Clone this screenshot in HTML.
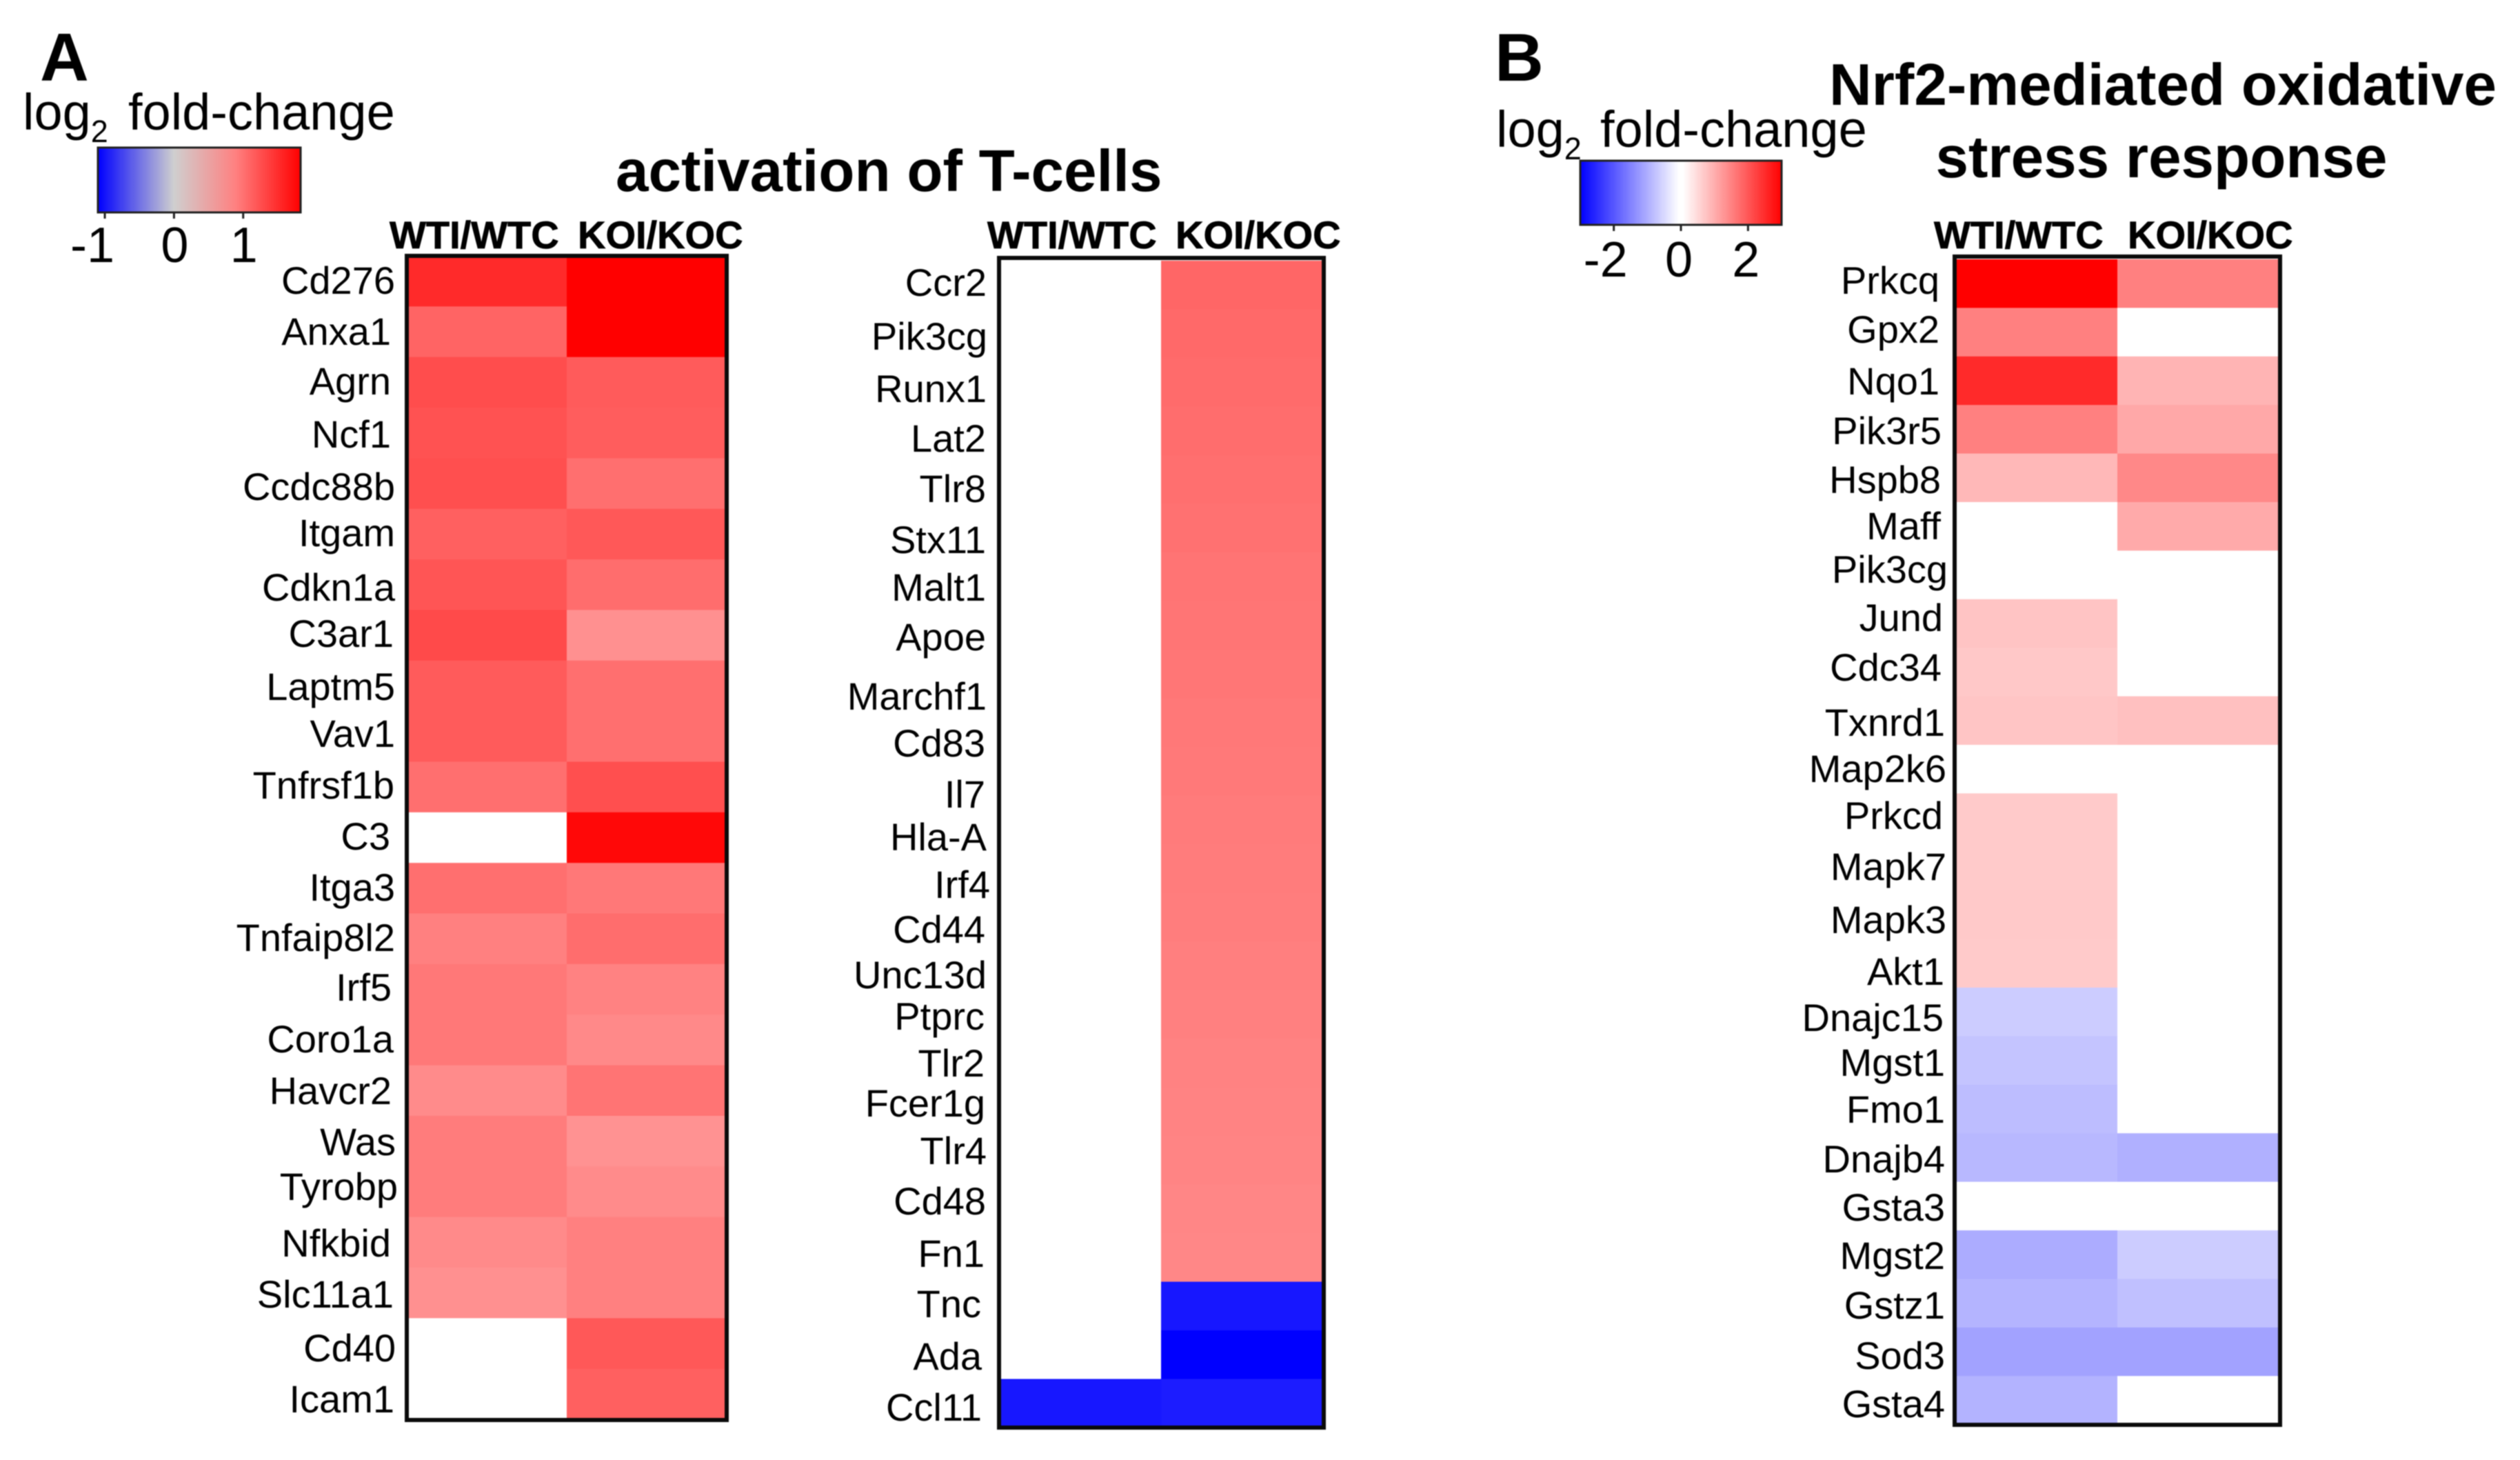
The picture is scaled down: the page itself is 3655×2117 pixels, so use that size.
<!DOCTYPE html>
<html lang="en">
<head>
<meta charset="utf-8">
<title>log2 fold-change heatmaps</title>
<style>
html,body{margin:0;padding:0;background:#fff;width:3655px;height:2117px;overflow:hidden}
svg{display:block;filter:blur(0.7px)}
text{font-family:"Liberation Sans",Arial,sans-serif;fill:#000}
.lab{font-size:56px;text-anchor:end}
.hdr{font-size:56px;font-weight:bold;stroke:#000;stroke-width:.8px}
.ttl{font-size:85.4px;font-weight:bold}
.pan{font-size:98px;font-weight:bold}
.leg{font-size:74px}
.sub{font-size:45px}
.tick{font-size:72px;text-anchor:end}
</style>
</head>
<body>
<svg id="chart" xmlns="http://www.w3.org/2000/svg" width="3655" height="2117" viewBox="0 0 3655 2117">
<defs>
<linearGradient id="gradA" x1="0" x2="1" y1="0" y2="0"><stop offset="0" stop-color="#0000ff"/><stop offset=".375" stop-color="#cfcfcf"/><stop offset=".68" stop-color="#ff8080"/><stop offset="1" stop-color="#ff0000"/></linearGradient>
<linearGradient id="gradB" x1="0" x2="1" y1="0" y2="0"><stop offset="0" stop-color="#0000ff"/><stop offset=".49" stop-color="#ffffff"/><stop offset=".51" stop-color="#ffffff"/><stop offset="1" stop-color="#ff0000"/></linearGradient>
</defs>
<rect width="3655" height="2117" fill="#fff"/>
<g id="cells"></g>
<g id="frames"></g>
<g id="legends"></g>

<text class="pan" x="58" y="117">A</text>
<text class="pan" x="2168" y="117">B</text>

<text class="leg" x="33" y="188">log<tspan class="sub" dy="18">2</tspan><tspan x="186" dy="-18">fold-change</tspan></text>
<text class="leg" x="2170" y="213">log<tspan class="sub" dy="18">2</tspan><tspan x="2321" dy="-18">fold-change</tspan></text>

<text class="ttl" x="893" y="277">activation of T-cells</text>
<text class="ttl" x="2653" y="152">Nrf2-mediated oxidative</text>
<text class="ttl" x="3135" y="257" text-anchor="middle">stress response</text>

<text class="hdr" x="565" y="360">WTI/WTC</text>
<text class="hdr" x="838" y="360">KOI/KOC</text>
<text class="hdr" x="1432" y="360">WTI/WTC</text>
<text class="hdr" x="1705" y="360">KOI/KOC</text>
<text class="hdr" x="2805" y="360">WTI/WTC</text>
<text class="hdr" x="3086" y="360">KOI/KOC</text>

<g>
<text class="lab" x="573" y="426">Cd276</text>
<text class="lab" x="567" y="500">Anxa1</text>
<text class="lab" x="567" y="572">Agrn</text>
<text class="lab" x="567" y="649">Ncf1</text>
<text class="lab" x="573" y="725">Ccdc88b</text>
<text class="lab" x="573" y="792">Itgam</text>
<text class="lab" x="573" y="871">Cdkn1a</text>
<text class="lab" x="571" y="938">C3ar1</text>
<text class="lab" x="573" y="1015">Laptm5</text>
<text class="lab" x="573" y="1083">Vav1</text>
<text class="lab" x="572" y="1158">Tnfrsf1b</text>
<text class="lab" x="566" y="1232">C3</text>
<text class="lab" x="573" y="1306">Itga3</text>
<text class="lab" x="573" y="1379">Tnfaip8l2</text>
<text class="lab" x="568" y="1451">Irf5</text>
<text class="lab" x="571" y="1526">Coro1a</text>
<text class="lab" x="568" y="1601">Havcr2</text>
<text class="lab" x="574" y="1675">Was</text>
<text class="lab" x="577" y="1740">Tyrobp</text>
<text class="lab" x="567" y="1822">Nfkbid</text>
<text class="lab" x="571" y="1896">Slc11a1</text>
<text class="lab" x="574" y="1974">Cd40</text>
<text class="lab" x="572" y="2048">Icam1</text>
</g>

<g>
<text class="lab" x="1431" y="429">Ccr2</text>
<text class="lab" x="1432" y="507">Pik3cg</text>
<text class="lab" x="1431" y="583">Runx1</text>
<text class="lab" x="1430" y="655">Lat2</text>
<text class="lab" x="1430" y="728">Tlr8</text>
<text class="lab" x="1430" y="802">Stx11</text>
<text class="lab" x="1430" y="871">Malt1</text>
<text class="lab" x="1430" y="943">Apoe</text>
<text class="lab" x="1431" y="1029">Marchf1</text>
<text class="lab" x="1429" y="1097">Cd83</text>
<text class="lab" x="1429" y="1171">Il7</text>
<text class="lab" x="1431" y="1233">Hla-A</text>
<text class="lab" x="1436" y="1302">Irf4</text>
<text class="lab" x="1429" y="1367">Cd44</text>
<text class="lab" x="1431" y="1433">Unc13d</text>
<text class="lab" x="1428" y="1493">Ptprc</text>
<text class="lab" x="1428" y="1561">Tlr2</text>
<text class="lab" x="1429" y="1619">Fcer1g</text>
<text class="lab" x="1431" y="1688">Tlr4</text>
<text class="lab" x="1430" y="1761">Cd48</text>
<text class="lab" x="1428" y="1837">Fn1</text>
<text class="lab" x="1423" y="1910">Tnc</text>
<text class="lab" x="1424" y="1986">Ada</text>
<text class="lab" x="1424" y="2060">Ccl11</text>
</g>

<g>
<text class="lab" x="2813" y="426">Prkcq</text>
<text class="lab" x="2813" y="497">Gpx2</text>
<text class="lab" x="2813" y="572">Nqo1</text>
<text class="lab" x="2816" y="644">Pik3r5</text>
<text class="lab" x="2815" y="715">Hspb8</text>
<text class="lab" x="2815" y="782">Maff</text>
<text class="lab" x="2825" y="845">Pik3cg</text>
<text class="lab" x="2818" y="915">Jund</text>
<text class="lab" x="2816" y="987">Cdc34</text>
<text class="lab" x="2821" y="1067">Txnrd1</text>
<text class="lab" x="2823" y="1134">Map2k6</text>
<text class="lab" x="2818" y="1202">Prkcd</text>
<text class="lab" x="2823" y="1276">Mapk7</text>
<text class="lab" x="2823" y="1353">Mapk3</text>
<text class="lab" x="2820" y="1428">Akt1</text>
<text class="lab" x="2819" y="1495">Dnajc15</text>
<text class="lab" x="2821" y="1560">Mgst1</text>
<text class="lab" x="2821" y="1628">Fmo1</text>
<text class="lab" x="2821" y="1700">Dnajb4</text>
<text class="lab" x="2821" y="1770">Gsta3</text>
<text class="lab" x="2821" y="1840">Mgst2</text>
<text class="lab" x="2821" y="1912">Gstz1</text>
<text class="lab" x="2821" y="1985">Sod3</text>
<text class="lab" x="2821" y="2055">Gsta4</text>
</g>
</svg>

<script>
// ---- data: log2 fold-change (null = not significant, drawn white) ----
const genesA1 = ["Cd276","Anxa1","Agrn","Ncf1","Ccdc88b","Itgam","Cdkn1a","C3ar1","Laptm5","Vav1","Tnfrsf1b","C3","Itga3","Tnfaip8l2","Irf5","Coro1a","Havcr2","Was","Tyrobp","Nfkbid","Slc11a1","Cd40","Icam1"];
const wtA1 = [1.53,1.11,1.28,1.24,1.26,1.14,1.22,1.30,1.18,1.18,1.03,null,1.03,0.91,0.97,0.97,0.83,0.94,0.94,0.84,0.80,null,null];
const koA1 = [1.83,1.83,1.18,1.16,1.03,1.20,1.05,0.80,1.03,1.03,1.26,1.77,0.97,1.05,0.90,0.85,1.00,0.78,0.83,0.91,0.91,1.20,1.14];

const genesA2 = ["Ccr2","Pik3cg","Runx1","Lat2","Tlr8","Stx11","Malt1","Apoe","Marchf1","Cd83","Il7","Hla-A","Irf4","Cd44","Unc13d","Ptprc","Tlr2","Fcer1g","Tlr4","Cd48","Fn1","Tnc","Ada","Ccl11"];
const wtA2 = [null,null,null,null,null,null,null,null,null,null,null,null,null,null,null,null,null,null,null,null,null,null,null,-1.0];
const koA2 = [1.10,1.08,1.06,1.05,1.03,1.02,1.00,0.99,0.98,0.97,0.96,0.95,0.94,0.93,0.92,0.91,0.90,0.89,0.88,0.87,0.86,-1.0,-1.1,-0.98];

const genesB = ["Prkcq","Gpx2","Nqo1","Pik3r5","Hspb8","Maff","Pik3cg","Jund","Cdc34","Txnrd1","Map2k6","Prkcd","Mapk7","Mapk3","Akt1","Dnajc15","Mgst1","Fmo1","Dnajb4","Gsta3","Mgst2","Gstz1","Sod3","Gsta4"];
const wtB = [3.0,1.5,2.5,1.5,0.83,null,null,0.69,0.65,0.68,null,0.62,0.62,0.64,0.62,-0.6,-0.69,-0.78,-0.83,null,-0.975,-0.88,-1.09,-0.9];
const koB = [1.5,null,0.88,1.02,1.4,1.0,null,null,null,0.74,null,null,null,null,null,null,null,null,-0.93,null,-0.6,-0.74,-1.09,null];

const legendTicksA = [-1,0,1];
const legendTicksB = [-2,0,2];

// ---- scales and drawing ----
const NS = "http://www.w3.org/2000/svg";
function colourScale(minV, maxV) {
  return function (v) {
    if (v === null) return "#ffffff";
    const t = v >= 0 ? Math.min(1, v / maxV) : Math.min(1, v / minV);
    const c = Math.round(255 * (1 - t));
    return v >= 0 ? "rgb(255," + c + "," + c + ")" : "rgb(" + c + "," + c + ",255)";
  };
}
function bandScale(start, step) {
  return function (i) { return start + step * i; };
}
function linearScale(d0, d1, r0, r1) {
  return function (v) { return r0 + (v - d0) / (d1 - d0) * (r1 - r0); };
}
function drawHeatmap(id, genes, wt, ko, left, mid, right, top, rowH, frameTop, bottom, colour) {
  const cells = document.getElementById("cells");
  const frames = document.getElementById("frames");
  const rowY = bandScale(top, rowH);
  const series = [wt, ko];
  const edges = [left, mid, right];
  const seriesNames = ["wti-wtc", "koi-koc"];
  for (let c = 0; c < 2; c++) {
    for (let r = 0; r < genes.length; r++) {
      const rect = document.createElementNS(NS, "rect");
      rect.setAttribute("x", edges[c]);
      rect.setAttribute("y", rowY(r));
      rect.setAttribute("width", edges[c + 1] - edges[c]);
      rect.setAttribute("height", rowY(r + 1) - rowY(r) + 0.5);
      rect.setAttribute("fill", colour(series[c][r]));
      
      
      cells.appendChild(rect);
    }
  }
  const frame = document.createElementNS(NS, "rect");
  frame.setAttribute("x", left);
  frame.setAttribute("y", frameTop);
  frame.setAttribute("width", right - left);
  frame.setAttribute("height", bottom - frameTop);
  frame.setAttribute("fill", "none");
  frame.setAttribute("stroke", "#0a0a0a");
  frame.setAttribute("stroke-width", "6");
  
  
  frames.appendChild(frame);
}
function drawLegend(id, ticks, domain, x0, x1, y0, y1, gradId, labelBase, negShift, posShift) {
  const g = document.getElementById("legends");
  const x = linearScale(domain[0], domain[1], x0, x1);
  const bar = document.createElementNS(NS, "rect");
  bar.setAttribute("x", x0);
  bar.setAttribute("y", y0);
  bar.setAttribute("width", x1 - x0);
  bar.setAttribute("height", y1 - y0);
  bar.setAttribute("fill", "url(#" + gradId + ")");
  bar.setAttribute("stroke", "#222");
  bar.setAttribute("stroke-width", "3");
  
  
  g.appendChild(bar);
  ticks.forEach(function (t) {
    const line = document.createElementNS(NS, "line");
    line.setAttribute("x1", x(t));
    line.setAttribute("x2", x(t));
    line.setAttribute("y1", y1);
    line.setAttribute("y2", y1 + 9);
    line.setAttribute("stroke", "#222");
    line.setAttribute("stroke-width", "3");
    
    
    g.appendChild(line);
    const label = document.createElementNS(NS, "text");
    label.setAttribute("class", "tick");
    label.setAttribute("x", x(t) + (t < 0 ? negShift : posShift));
    label.setAttribute("y", labelBase);
    label.textContent = String(t);
    
    
    g.appendChild(label);
  });
}
const colourA = colourScale(-1.1, 1.83);
const colourB = colourScale(-3, 3);
drawHeatmap("a1", genesA1, wtA1, koA1, 590, 822, 1054, 371, 73.35, 371, 2059, colourA);
drawHeatmap("a2", genesA2, wtA2, koA2, 1449, 1684, 1920, 378, 70.5, 374, 2070, colourA);
drawHeatmap("b", genesB, wtB, koB, 2835, 3071, 3307, 376, 70.4, 372, 2066, colourB);
drawLegend("legend-a", legendTicksA, [-1.1, 1.83], 142, 436, 214, 308, "gradA", 380, 14, 21);
drawLegend("legend-b", legendTicksB, [-3, 3], 2292, 2584, 233, 326, "gradB", 401, 20, 17);
</script>
</body>
</html>
